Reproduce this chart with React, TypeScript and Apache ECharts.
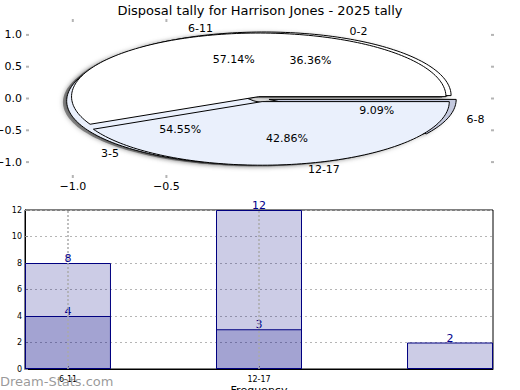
import React, { useEffect, useRef } from "react";
import * as echarts from "echarts";

const TITLE = "Disposal tally for Harrison Jones - 2025 tally";

// Pie (underneath): 0-2 / 3-5 / 6-8
const pieOuterLabels = ["0-2", "3-5", "6-8"];
const pieOuterValues = [4, 6, 1];
const pieOuterExplode = [0.05, 0.05, 0.05];
const pieOuterColors = ["#ffffff", "#eaf0fc", "#c4c9de"];

// Pie (on top): 6-11 / 12-17
const pieInnerLabels = ["6-11", "12-17"];
const pieInnerValues = [4, 3];
const pieInnerExplode = [0.03, 0.05];
const pieInnerColors = ["#ffffff", "#eaf0fc"];

const pieLimit = 1.25;
const pieXTicks = [-1, -0.5];
const pieYTicks = [-1, -0.5, 0, 0.5, 1];

// Bar chart
const barCategories = ["6-11", "12-17", ""];
const barTotals = [8, 12, 2];
const barParts = [4, 3];
const barTickPositions = [0, 1];

const FONT = '"DejaVu Sans", sans-serif';

type Wedge = {
  label: string;
  pct: string;
  a0: number;
  a1: number;
  mid: number;
  cx: number;
  cy: number;
  color: string;
};

function buildWedges(labels: string[], values: number[], explode: number[], colors: string[]): Wedge[] {
  const total = values.reduce((a, b) => a + b, 0);
  let start = 0;
  return values.map((v, i) => {
    const span = (v / total) * Math.PI * 2;
    const a0 = start;
    const a1 = start + span;
    start = a1;
    const mid = (a0 + a1) / 2;
    return {
      label: labels[i],
      pct: ((v / total) * 100).toFixed(2) + "%",
      a0,
      a1,
      mid,
      cx: explode[i] * Math.cos(mid),
      cy: explode[i] * Math.sin(mid),
      color: colors[i],
    };
  });
}

const wedges: Wedge[] = [
  ...buildWedges(pieOuterLabels, pieOuterValues, pieOuterExplode, pieOuterColors),
  ...buildWedges(pieInnerLabels, pieInnerValues, pieInnerExplode, pieInnerColors),
];

// tick marks of the pie frame: [side, value]
const pieTickMarks: [string, number][] = [
  ...pieXTicks.map((v) => ["bottom", v] as [string, number]),
  ...pieXTicks.map((v) => ["top", v] as [string, number]),
  ...pieYTicks.map((v) => ["left", v] as [string, number]),
  ...pieYTicks.map((v) => ["right", v] as [string, number]),
];

function wedgePoints(api: any, w: Wedge, dx: number, dy: number) {
  const pts: number[][] = [api.coord([w.cx + dx, w.cy + dy])];
  const n = Math.max(6, Math.ceil((w.a1 - w.a0) / (Math.PI / 120)));
  for (let k = 0; k <= n; k++) {
    const a = w.a0 + ((w.a1 - w.a0) * k) / n;
    pts.push(api.coord([w.cx + dx + Math.cos(a), w.cy + dy + Math.sin(a)]));
  }
  return pts;
}

const minus = (s: string) => s.replace("-", "\u2212");

export default function App() {
  const ref = useRef<HTMLDivElement>(null);
  useEffect(() => {
    if (!ref.current) return;
    const chart = echarts.init(ref.current, undefined, { renderer: "svg" });
    const hiddenLine = { show: false, onZero: false };
    const option: any = {
      animation: false,
      backgroundColor: "#ffffff",
      title: {
        text: TITLE,
        left: "center",
        top: -1,
        textStyle: { fontFamily: FONT, fontSize: 13, fontWeight: "normal", color: "#000" },
      },
      grid: [
        { left: 26, right: 26, top: 19, bottom: 212, show: false, outerBoundsMode: "none", containLabel: false },
        {
          left: 25,
          right: 27,
          top: 210,
          bottom: 21,
          show: true,
          borderColor: "#000",
          borderWidth: 1,
          outerBoundsMode: "none",
          containLabel: false,
        },
      ],
      xAxis: [
        {
          gridIndex: 0,
          type: "value",
          min: -pieLimit,
          max: pieLimit,
          position: "bottom",
          axisLine: hiddenLine,
          splitLine: { show: false },
          axisTick: { show: false },
          axisLabel: {
            customValues: pieXTicks,
            formatter: (v: number) => minus(v.toFixed(1)),
            margin: 3,
            fontSize: 11,
            fontFamily: FONT,
            color: "#000",
          },
        },
        {
          gridIndex: 1,
          type: "value",
          min: -0.225,
          max: 2.225,
          name: "Frequency",
          nameLocation: "middle",
          nameGap: 16,
          nameTextStyle: { fontFamily: FONT, fontSize: 11, color: "#000" },
          axisLine: { show: true, onZero: false, lineStyle: { color: "#000" } },
          splitLine: { show: false },
          axisTick: { show: true, inside: true, length: 3, lineStyle: { color: "#888" }, customValues: barTickPositions },
          axisLabel: {
            customValues: barTickPositions,
            formatter: (v: number) => barCategories[Math.round(v)],
            margin: 6,
            fontSize: 8,
            fontFamily: FONT,
            color: "#000",
          },
        },
      ],
      yAxis: [
        {
          gridIndex: 0,
          type: "value",
          min: -pieLimit,
          max: pieLimit,
          position: "left",
          axisLine: hiddenLine,
          splitLine: { show: false },
          axisTick: { show: false },
          axisLabel: {
            customValues: pieYTicks,
            formatter: (v: number) => minus(v.toFixed(1)),
            margin: 4,
            fontSize: 11,
            fontFamily: FONT,
            color: "#000",
          },
        },
        {
          gridIndex: 1,
          type: "value",
          min: 0,
          max: 12,
          interval: 2,
          name: "Stat Intervals",
          nameLocation: "middle",
          nameGap: 16,
          nameTextStyle: { fontFamily: FONT, fontSize: 11, color: "#000" },
          axisLine: { show: true, onZero: false, lineStyle: { color: "#000" } },
          splitLine: { show: true, lineStyle: { type: [2, 3], color: "#b5b5b5", width: 1 } },
          axisTick: { show: true, inside: true, length: 3, lineStyle: { color: "#888" } },
          axisLabel: { margin: 3, fontSize: 8, fontFamily: FONT, color: "#000" },
        },
      ],
      series: [
        {
          type: "custom",
          xAxisIndex: 0,
          yAxisIndex: 0,
          z: 5,
          silent: true,
          clip: false,
          data: pieTickMarks.map((t) => [t[0] === "left" || t[0] === "right" ? 0 : t[1], 0]),
          renderItem: (params: any, api: any) => {
            const [side, v] = pieTickMarks[params.dataIndex];
            let p: number[];
            let q: number[];
            if (side === "left") {
              p = api.coord([-pieLimit, v]);
              q = [p[0] + 3, p[1]];
            } else if (side === "right") {
              p = api.coord([pieLimit, v]);
              q = [p[0] - 3, p[1]];
            } else if (side === "top") {
              p = api.coord([v, pieLimit]);
              q = [p[0], p[1] + 3];
            } else {
              p = api.coord([v, -pieLimit]);
              q = [p[0], p[1] - 3];
            }
            return {
              type: "line",
              shape: { x1: p[0], y1: p[1], x2: q[0], y2: q[1] },
              style: { stroke: "#b4b4b4", lineWidth: 2 },
            };
          },
        },
        {
          type: "custom",
          xAxisIndex: 0,
          yAxisIndex: 0,
          z: 1,
          silent: true,
          data: wedges.map(() => [0, 0]),
          renderItem: (params: any, api: any) => {
            const w = wedges[params.dataIndex];
            return {
              type: "polygon",
              shape: { points: wedgePoints(api, w, -0.02, -0.02) },
              style: { fill: "rgba(60,60,60,0.55)", shadowBlur: 5, shadowColor: "rgba(0,0,0,0.6)" },
            };
          },
        },
        {
          type: "custom",
          xAxisIndex: 0,
          yAxisIndex: 0,
          z: 2,
          silent: true,
          data: wedges.map(() => [0, 0]),
          renderItem: (params: any, api: any) => {
            const w = wedges[params.dataIndex];
            return {
              type: "polygon",
              shape: { points: wedgePoints(api, w, 0, 0) },
              style: { fill: w.color, stroke: "#000", lineWidth: 1 },
            };
          },
        },
        {
          type: "custom",
          xAxisIndex: 0,
          yAxisIndex: 0,
          z: 3,
          silent: true,
          data: wedges.map(() => [0, 0]),
          renderItem: (params: any, api: any) => {
            const w = wedges[params.dataIndex];
            const lx = w.cx + 1.1 * Math.cos(w.mid);
            const ly = w.cy + 1.1 * Math.sin(w.mid);
            const p = api.coord([lx, ly]);
            const q = api.coord([w.cx + 0.6 * Math.cos(w.mid), w.cy + 0.6 * Math.sin(w.mid)]);
            const al = lx < 0 ? "right" : "left";
            return {
              type: "group",
              children: [
                {
                  type: "text",
                  x: p[0],
                  y: p[1],
                  style: {
                    text: w.label,
                    fill: "#000",
                    font: `11px ${FONT}`,
                    align: al,
                    textAlign: al,
                    verticalAlign: "middle",
                    textVerticalAlign: "middle",
                  },
                },
                {
                  type: "text",
                  x: q[0],
                  y: q[1],
                  style: {
                    text: w.pct,
                    fill: "#000",
                    font: `11px ${FONT}`,
                    align: "center",
                    textAlign: "center",
                    verticalAlign: "middle",
                    textVerticalAlign: "middle",
                  },
                },
              ],
            };
          },
        },
        {
          type: "bar",
          xAxisIndex: 1,
          yAxisIndex: 1,
          barWidth: 86,
          barGap: "-100%",
          data: barTotals.map((v, i) => [i, v]),
          itemStyle: { color: "rgba(0,0,128,0.2)", borderColor: "#000080", borderWidth: 1 },
          label: { show: true, position: "top", distance: -1, color: "#00008b", fontSize: 11, fontFamily: FONT },
          markLine: {
            silent: true,
            symbol: "none",
            label: { show: false },
            lineStyle: { type: [2, 2], color: "#aaaaaa", width: 1.5 },
            data: barTickPositions.map((v) => ({ xAxis: v })),
          },
        },
        {
          type: "bar",
          xAxisIndex: 1,
          yAxisIndex: 1,
          barWidth: 86,
          barGap: "-100%",
          data: barParts.map((v, i) => [i, v]),
          itemStyle: { color: "rgba(0,0,128,0.2)", borderColor: "#000080", borderWidth: 1 },
          label: { show: true, position: "top", distance: -1, color: "#00008b", fontSize: 11, fontFamily: FONT },
        },
      ],
      graphic: [
        {
          type: "text",
          left: 0,
          top: 375,
          z: 100,
          style: { text: "Dream-Stats.com", fill: "rgba(120,120,120,0.75)", font: `13px ${FONT}` },
        },
      ],
    };
    chart.setOption(option);
    return () => chart.dispose();
  }, []);
  return <div ref={ref} style={{ width: 520, height: 390, position: "absolute", left: 0, top: 0 }} />;
}
